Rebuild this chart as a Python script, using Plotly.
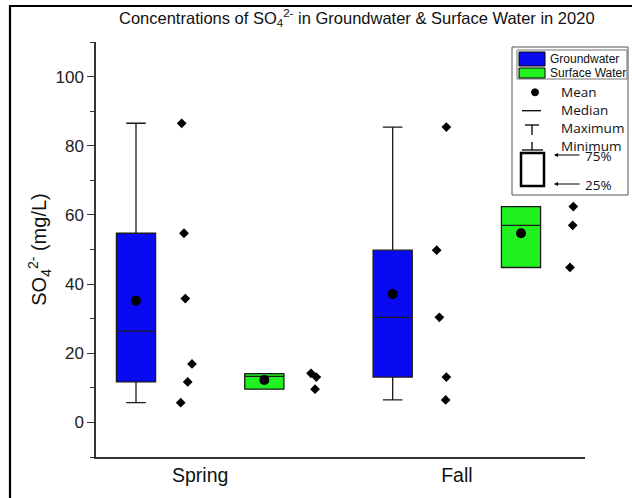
import plotly.graph_objects as go

# ---------------- data ----------------
seasons = ["Spring", "Fall"]
groups = ["Groundwater", "Surface Water"]

# raw sample values (mg/L)
spring_gw = [5.7, 11.7, 16.9, 35.8, 54.7, 86.5]
spring_sw = [9.6, 13.1, 14.2]
fall_gw = [6.5, 13.1, 30.4, 49.8, 85.4]
fall_sw = [44.8, 57.0, 62.4]

# box statistics in order: Spring GW, Spring SW, Fall GW, Fall SW
box_min = [5.7, 9.6, 6.5, 44.8]
box_q1 = [11.7, 9.6, 13.1, 44.8]
box_median = [26.4, 13.3, 30.4, 57.0]
box_q3 = [54.7, 14.1, 49.8, 62.4]
box_max = [86.5, 14.1, 85.4, 62.4]
box_mean = [35.2, 12.3, 37.1, 54.7]

ytick_vals = [0, 20, 40, 60, 80, 100]

# ---------------- layout constants ----------------
W, H = 632, 498
L, R, T, B = 96, 47, 42, 41
PW, PH = W - L - R, H - T - B
STEP = 128.33          # px between adjacent boxes
BOX_POS = [1, 2, 3, 4]
XR = [1 - 40 / STEP, 4 + 64 / STEP]
# horizontal scatter offsets of the sample points from their box (px)
JIT = [
    [44.7, 51.7, 56.0, 49.3, 48.0, 45.7],
    [50.7, 52.0, 46.7],
    [53.0, 53.7, 46.7, 44.0, 53.7],
    [49.0, 51.7, 52.3],
]
BLUE = "#0a0af2"
GREEN = "#1ff21f"
fills = [BLUE, GREEN, BLUE, GREEN]
samples = [spring_gw, spring_sw, fall_gw, fall_sw]


def X(px):
    return (px - L) / PW


def Y(py):
    return (H - B - py) / PH


fig = go.Figure()

for i in range(4):
    fig.add_trace(go.Box(
        x=[BOX_POS[i]], q1=[box_q1[i]], median=[box_median[i]], q3=[box_q3[i]],
        lowerfence=[box_min[i]], upperfence=[box_max[i]],
        width=0.305, whiskerwidth=0.5, fillcolor=fills[i],
        line=dict(color="#1a1a1a", width=1.3), boxpoints=False,
        showlegend=False, hoverinfo="skip",
    ))
    fig.add_trace(go.Scatter(
        x=[BOX_POS[i]], y=[box_mean[i]], mode="markers",
        marker=dict(symbol="circle", size=10, color="black"),
        showlegend=False, hoverinfo="skip",
    ))
    fig.add_trace(go.Scatter(
        x=[BOX_POS[i] + j / STEP for j in JIT[i]], y=samples[i], mode="markers",
        marker=dict(symbol="diamond", size=7.5, color="black"),
        showlegend=False, hoverinfo="skip",
    ))

shapes = []
# outer frame of the picture
shapes.append(dict(type="rect", xref="paper", yref="paper",
                   x0=X(10), x1=X(660), y0=Y(6), y1=Y(530),
                   line=dict(color="black", width=2.2), fillcolor="rgba(0,0,0,0)", layer="above"))
# legend boxes
shapes.append(dict(type="rect", xref="paper", yref="paper",
                   x0=X(512), x1=X(628), y0=Y(47), y1=Y(195),
                   line=dict(color="#555", width=1), fillcolor="white", layer="above"))
shapes.append(dict(type="rect", xref="paper", yref="paper",
                   x0=X(517), x1=X(627), y0=Y(50), y1=Y(79),
                   line=dict(color="#777", width=1), fillcolor="white", layer="above"))
shapes.append(dict(type="rect", xref="paper", yref="paper",
                   x0=X(519), x1=X(545), y0=Y(52), y1=Y(66),
                   line=dict(color="black", width=1), fillcolor=BLUE, layer="above"))
shapes.append(dict(type="rect", xref="paper", yref="paper",
                   x0=X(519), x1=X(545), y0=Y(68), y1=Y(78),
                   line=dict(color="black", width=1), fillcolor=GREEN, layer="above"))
# mean dot
shapes.append(dict(type="circle", xref="paper", yref="paper",
                   x0=X(531.5), x1=X(538.5), y0=Y(88.8), y1=Y(95.8),
                   line=dict(color="black", width=1), fillcolor="black", layer="above"))
# median line
shapes.append(dict(type="line", xref="paper", yref="paper",
                   x0=X(522), x1=X(541), y0=Y(110.7), y1=Y(110.7),
                   line=dict(color="black", width=1.3), layer="above"))
# maximum T
shapes.append(dict(type="line", xref="paper", yref="paper",
                   x0=X(525), x1=X(539), y0=Y(125), y1=Y(125),
                   line=dict(color="black", width=1.3), layer="above"))
shapes.append(dict(type="line", xref="paper", yref="paper",
                   x0=X(532), x1=X(532), y0=Y(125), y1=Y(135),
                   line=dict(color="black", width=1.3), layer="above"))
# minimum
shapes.append(dict(type="line", xref="paper", yref="paper",
                   x0=X(532), x1=X(532), y0=Y(142), y1=Y(150),
                   line=dict(color="black", width=1.3), layer="above"))
shapes.append(dict(type="line", xref="paper", yref="paper",
                   x0=X(522), x1=X(543), y0=Y(150), y1=Y(150),
                   line=dict(color="black", width=1.3), layer="above"))
# percentile square
shapes.append(dict(type="rect", xref="paper", yref="paper",
                   x0=X(521), x1=X(544), y0=Y(153), y1=Y(186),
                   line=dict(color="black", width=2.5), fillcolor="rgba(0,0,0,0)", layer="above"))

annots = []
annots.append(dict(xref="paper", yref="paper", x=X(357), y=Y(18),
                   text="Concentrations of SO<sub>4</sub><sup>2-</sup> in Groundwater &amp; Surface Water in 2020",
                   showarrow=False, xanchor="center", yanchor="middle",
                   font=dict(family="Arial, Liberation Sans", size=16.5, color="#111")))
leg_small = dict(family="Arial, Liberation Sans", size=12, color="#111")
leg_big = dict(family="Open Sans, Noto Sans", size=13.5, color="#111")
annots.append(dict(xref="paper", yref="paper", x=X(548), y=Y(59), text=groups[0],
                   showarrow=False, xanchor="left", yanchor="middle", font=leg_small))
annots.append(dict(xref="paper", yref="paper", x=X(548), y=Y(73), text=groups[1],
                   showarrow=False, xanchor="left", yanchor="middle", font=leg_small))
for txt, py in [("Mean", 92), ("Median", 110), ("Maximum", 128), ("Minimum", 145.5)]:
    annots.append(dict(xref="paper", yref="paper", x=X(559), y=Y(py), text=txt,
                       showarrow=False, xanchor="left", yanchor="middle", font=leg_big))
for txt, py in [("75%", 156), ("25%", 185)]:
    annots.append(dict(xref="paper", yref="paper", x=X(583), y=Y(py), text=txt,
                       showarrow=False, xanchor="left", yanchor="middle", font=leg_big))
    annots.append(dict(xref="paper", yref="paper", x=X(554), y=Y(py - 1), text="",
                       showarrow=True, ax=27, ay=0, arrowhead=2, arrowsize=0.8,
                       arrowwidth=1, arrowcolor="black", standoff=0))

fig.update_layout(
    width=W, height=H,
    margin=dict(l=L, r=R, t=T, b=B, pad=0),
    paper_bgcolor="white", plot_bgcolor="white",
    showlegend=False,
    shapes=shapes, annotations=annots,
    xaxis=dict(range=XR, tickvals=[1.5, 3.5], ticktext=seasons, ticks="",
               showline=True, linecolor="#333", linewidth=1.5, showgrid=False,
               zeroline=False, tickfont=dict(family="Arial, Liberation Sans", size=19.5, color="#111")),
    yaxis=dict(range=[-10, 110], tickvals=ytick_vals, ticks="outside", ticklen=7,
               tickwidth=1.2, tickcolor="#333",
               minor=dict(dtick=10, tick0=0, ticks="outside", ticklen=4, tickcolor="#333", tickwidth=1.2),
               showline=True, linecolor="#333", linewidth=1.5, showgrid=False, zeroline=False,
               tickfont=dict(family="Arial, Liberation Sans", size=17, color="#222"),
               title=dict(text="SO<sub>4</sub><sup>2-</sup> (mg/L)", standoff=3,
                          font=dict(family="Arial, Liberation Sans", size=20, color="#111"))),
)

fig.write_html("out.html")
